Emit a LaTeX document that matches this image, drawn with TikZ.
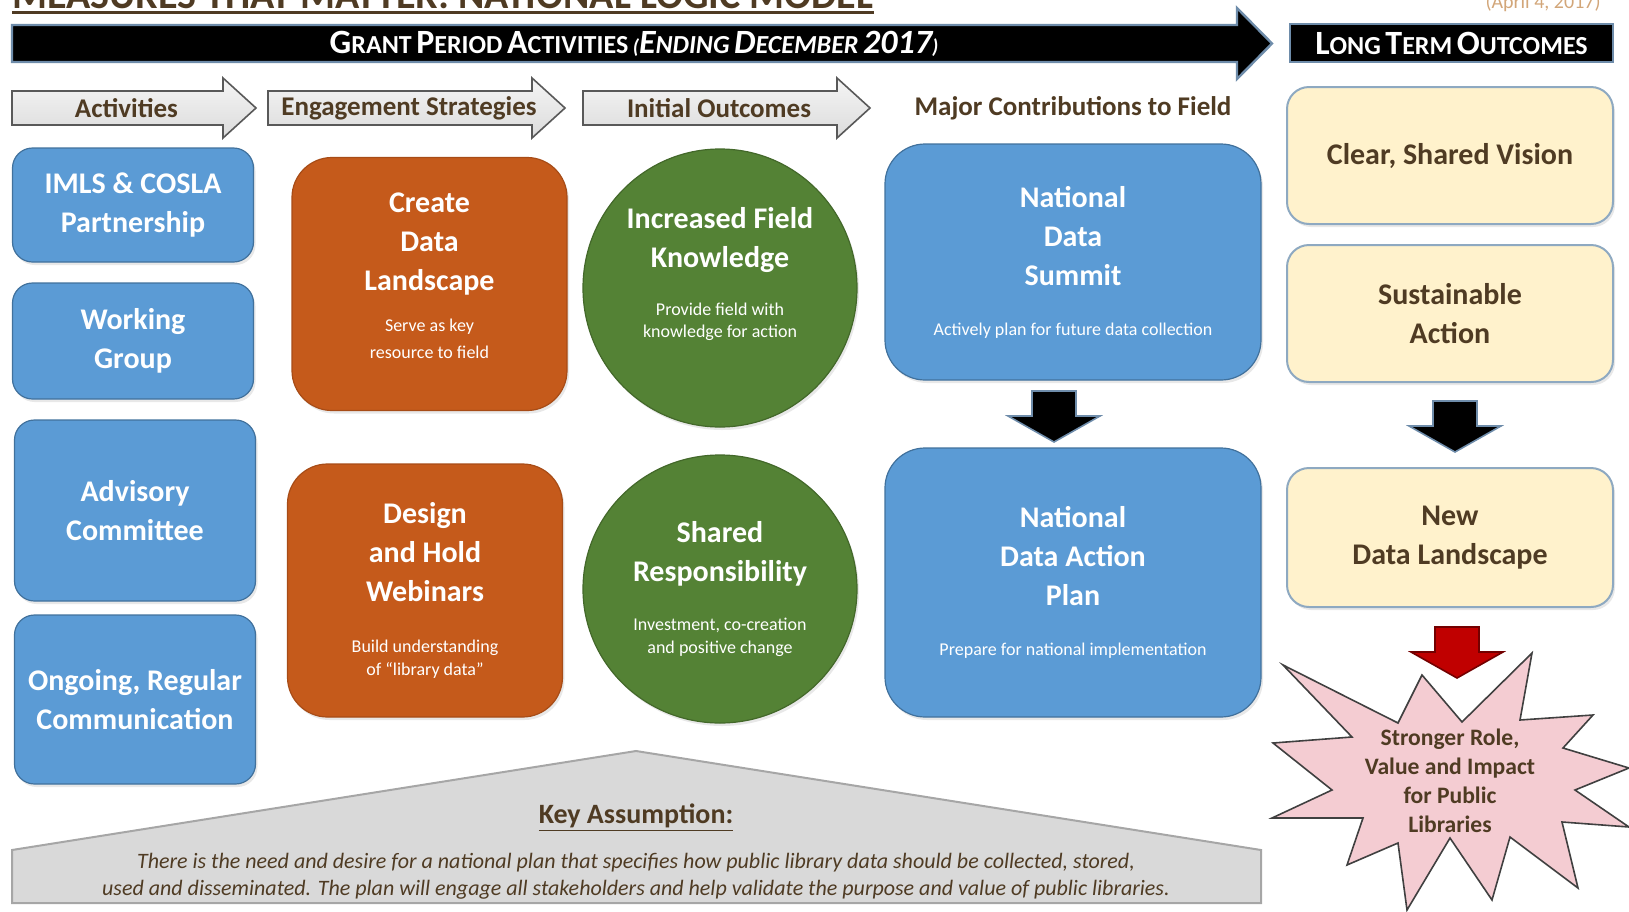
\documentclass[tikz,border=0pt]{standalone}
\usepackage{fontspec}
\setmainfont{Carlito}
\usetikzlibrary{shapes.geometric, shadows, positioning}

\definecolor{actblue}{RGB}{91,155,213}
\definecolor{actblueline}{RGB}{65,113,156}
\definecolor{engorange}{RGB}{197,90,27}
\definecolor{outgreen}{RGB}{84,130,53}
\definecolor{longyellow}{RGB}{255,242,204}
\definecolor{longline}{RGB}{142,169,193}
\definecolor{labelbrown}{RGB}{79,59,35}
\definecolor{bannerline}{RGB}{110,140,170}
\definecolor{starpink}{RGB}{244,204,210}
\definecolor{housegray}{RGB}{217,217,217}
\definecolor{impactred}{RGB}{192,0,0}

\newcommand{\capsc}[2]{{\fontsize{17}{17}\selectfont #1}{\fontsize{13}{13}\selectfont #2}}
\newcommand{\subtxt}[1]{{\mdseries\fontsize{9}{11}\selectfont #1}}

\begin{document}
\begin{tikzpicture}[x=0.5pt, y=-0.5pt]

\newlength{\pxu}
\setlength{\pxu}{0.5pt}

\useasboundingbox (0,0) rectangle (1629,911);

% styles
\pgfkeys{/box/.style={inner sep=0, align=center, text=white, font=\bfseries\fontsize{15}{19.5}\selectfont}} % base style for boxes
\pgfkeys{/shadowed/.style={drop shadow={opacity=0.18, shadow xshift=1pt, shadow yshift=-1.5pt}}}
\pgfkeys{/actbox/.style={/box, /shadowed, rectangle, rounded corners=10pt, fill=actblue, draw=actblueline, line width=0.6pt, minimum width=241\pxu}} % activities
\pgfkeys{/engbox/.style={/box, /shadowed, rectangle, rounded corners=20pt, fill=engorange, draw=engorange!85!black, line width=0.6pt, minimum width=275\pxu, minimum height=253\pxu}} % engagement strategies
\pgfkeys{/outcirc/.style={/box, /shadowed, ellipse, fill=outgreen, draw=outgreen!80!black, line width=0.6pt, minimum width=274\pxu}} % initial outcomes
\pgfkeys{/fieldbox/.style={/actbox, rounded corners=20pt, minimum width=376\pxu}} % major contributions
\pgfkeys{/longbox/.style={/box, /shadowed, rectangle, rounded corners=11pt, fill=longyellow, draw=longline, line width=1pt, text=labelbrown, minimum width=326\pxu}} % long term outcomes
\pgfkeys{/hdrarrow/.style={draw=black!65, line width=0.8pt, top color=black!4, bottom color=black!14}} % grey header arrows
\pgfkeys{/hdrtext/.style={text=labelbrown, font=\bfseries\fontsize{13.5}{16}\selectfont}}
\pgfkeys{/blockarrow/.style={line width=0.8pt, line join=miter}}

% title, cut at the top edge
\node[anchor=base west, inner sep=0, text=labelbrown, font=\bfseries\fontsize{20}{20}\selectfont] (title) at (12,8) {MEASURES THAT MATTER: NATIONAL LOGIC MODEL};
\draw[labelbrown, line width=1.5pt] ([yshift=-2pt]title.base west) -- ([yshift=-2pt]title.base east);
\node[anchor=base east, inner sep=0, text=brown!70, font=\fontsize{10}{10}\selectfont] (date) at (1601,8) {(April 4, 2017)};

% banner
\draw[fill=black, draw=bannerline, line width=1.2pt] (12,25) -- (1237,25) -- (1237,8) -- (1272,43.5) -- (1237,79) -- (1237,62) -- (12,62) -- cycle;
\node[text=white, font=\bfseries] (grant) at (634,44) {\capsc{G}{RANT} \capsc{P}{ERIOD} \capsc{A}{CTIVITIES} \itshape(\capsc{E}{NDING} \capsc{D}{ECEMBER} \capsc{2017}{})};
\node[fill=black, draw=bannerline, line width=1.2pt, inner sep=0, minimum width=323\pxu, minimum height=38\pxu, text=white, font=\bfseries] (longterm) at (1451.5,43) {\capsc{L}{ONG} \capsc{T}{ERM} \capsc{O}{UTCOMES}};

% grey header arrows
\foreach \l/\r/\name/\txt in {12/223/act/Activities, 268/532/eng/Engagement Strategies, 583/837/init/Initial Outcomes} {
\draw[/hdrarrow] (\l,91) -- (\r,91) -- (\r,78) -- (\r+33,108) -- (\r,138) -- (\r,125) -- (\l,125) -- cycle;
\node[/hdrtext] (hdr-\name) at ({(\l+\r)/2+9},108) {\txt};
}
\node[/hdrtext] (hdr-major) at (1073,108) {Major Contributions to Field};

% activities
\node[/actbox, minimum height=114\pxu] (imls) at (133,205) {IMLS \& COSLA\\Partnership};
\node[/actbox, minimum height=116\pxu] (working) at (133,341) {Working\\Group};
\node[/actbox, minimum height=181\pxu] (advisory) at (135,510.5) {Advisory\\Committee};
\node[/actbox, minimum height=169\pxu] (ongoing) at (135,699.5) {Ongoing, Regular\\Communication};

% engagement strategies
\node[/engbox] (landscape) at (429.5,284) {};
\node[/box] (landscape-txt) at (429.5,276) {Create\\Data\\Landscape\\[1pt]\subtxt{Serve as key}\\[-6pt]\subtxt{resource to field}};
\node[/engbox] (webinars) at (425,590.5) {Design\\and Hold\\Webinars\\[6pt]\subtxt{Build understanding}\\[-8pt]\subtxt{of “library data”}};

% initial outcomes
\node[/outcirc, minimum height=278\pxu] (knowledge) at (720,288) {};
\node[/box] (knowledge-txt) at (720,274) {Increased Field\\Knowledge\\[4.5pt]\subtxt{Provide field with}\\[-8.5pt]\subtxt{knowledge for action}};
\node[/outcirc, minimum height=268\pxu] (responsibility) at (720,589) {Shared\\Responsibility\\[5pt]\subtxt{Investment, co-creation}\\[-8pt]\subtxt{and positive change}};

% major contributions
\node[/fieldbox, minimum height=236\pxu] (summit) at (1073,262) {National\\Data\\Summit\\[5.5pt]\subtxt{Actively plan for future data collection}};
\node[/fieldbox, minimum height=269\pxu] (actionplan) at (1073,582.5) {National\\Data Action\\Plan\\[5.5pt]\subtxt{Prepare for national implementation}};

% long term outcomes
\node[/longbox, minimum height=137\pxu] (vision) at (1450,155.5) {Clear, Shared Vision};
\node[/longbox, minimum height=137\pxu] (sustain) at (1450,313.5) {Sustainable\\Action};
\node[/longbox, minimum height=139\pxu] (newland) at (1450,537.5) {New\\Data Landscape};

% block arrows down
\foreach \cx/\cy/\col/\edge in {1054/391/black/bannerline, 1455/401/black/bannerline, 1457/627/impactred/impactred!60!black} {
\draw[/blockarrow, fill=\col, draw=\edge] (\cx-22,\cy) -- (\cx+22,\cy) -- (\cx+22,\cy+25) -- (\cx+46,\cy+25) -- (\cx,\cy+51) -- (\cx-46,\cy+25) -- (\cx-22,\cy+25) -- cycle;
}

% explosion
\draw[fill=starpink, draw=black!75, line width=0.8pt, line join=miter] (1283,665) -- (1398,723) -- (1422,675) -- (1462,722) -- (1532,653) -- (1520,720) -- (1593,715) -- (1563,748) -- (1629,768) -- (1575,790) -- (1629,827) -- (1562,822) -- (1578,888) -- (1510,837) -- (1492,900) -- (1450,838) -- (1407,910) -- (1398,843) -- (1347,865) -- (1363,818) -- (1272,818) -- (1332,790) -- (1273,743) -- (1352,737) -- cycle;
\node[align=center, inner sep=0, text=labelbrown, font=\bfseries\fontsize{11.8}{14.5}\selectfont] (impact) at (1450,781) {Stronger Role,\\Value and Impact\\for Public\\Libraries};

% key assumption
\draw[fill=housegray, draw=black!35, line width=1pt] (12,850) -- (636,751) -- (1261,850) -- (1261,903) -- (12,903) -- cycle;
\node[text=labelbrown, font=\bfseries\fontsize{14}{16}\selectfont] (keyhead) at (636,818) {\underline{Key Assumption:}};
\node[align=center, inner sep=0, text=labelbrown, font=\itshape\fontsize{11}{13.5}\selectfont] (keytext) at (636,876) {There is the need and desire for a national plan that specifies how public library data should be collected, stored,\\used and disseminated. The plan will engage all stakeholders and help validate the purpose and value of public  libraries.};

\end{tikzpicture}
\end{document}
